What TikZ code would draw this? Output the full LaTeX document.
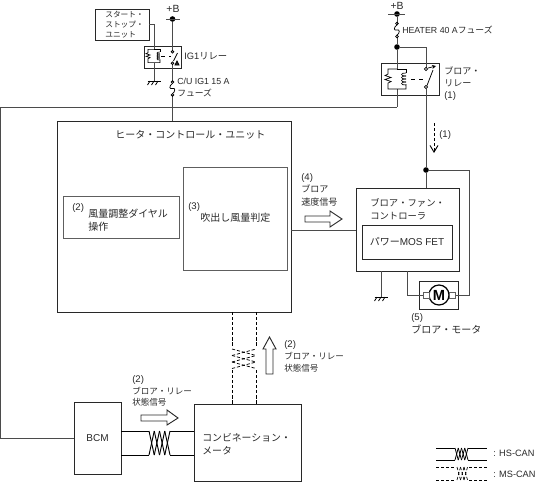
\documentclass[tikz,border=0pt]{standalone}
\usepackage{fontspec}
\usepackage{tikz}
\usetikzlibrary{arrows.meta}
\setmainfont{Liberation Sans}
\newfontfamily\jpfont{Noto Sans CJK JP}
\newcommand{\jt}[1]{{\jpfont #1}}
\newcommand{\nm}[1]{{\fontsize{7.2}{9}\selectfont #1}}
\AtBeginDocument{\lineskiplimit=-20pt\relax}
\definecolor{wiregray}{RGB}{75, 75, 75}
\definecolor{boxdark}{RGB}{40, 40, 40}
\tikzset{
    box/.style 2 args={draw=boxdark, line width=0.72pt, inner sep=0pt, minimum width=#1*0.75pt, minimum height=#2*0.75pt},
    thinbox/.style 2 args={draw=boxdark!75, line width=0.6pt, inner sep=0pt, minimum width=#1*0.75pt, minimum height=#2*0.75pt},
    wire/.style={draw=wiregray, line width=0.7pt},
    sig/.style={draw=black, line width=0.6pt, dash pattern=on 2.4pt off 1.4pt},
    blockarrow/.style={draw=boxdark, line width=0.7pt, fill=white},
    jdot/.style={circle, fill=black, inner sep=0pt, minimum size=4.2pt},
    lab/.style={inner sep=0pt, anchor=west, align=left, text=boxdark, font=\fontsize{6.6}{9}\selectfont},
    bigtxt/.style={inner sep=0pt, anchor=west, align=left, text=boxdark, font=\fontsize{7.5}{10}\selectfont},
    coilset/.pic={
        \draw[line width=0.5pt] (0,-10) -- (-9,-10) -- (-9,-5) -- (-12,-3.5) -- (-6,-1.5) -- (-12,0.5) -- (-6,2.5) -- (-9,4) -- (-9,10) -- (9,10) -- (9,5);
        \draw[line width=0.5pt] (0,-10) -- (9,-10) -- (9,-6);
        \foreach \y in {-6,-3,0,3} {
            \draw[line width=0.5pt] (9,\y) .. controls (3,\y-0.5) and (3,\y+3.5) .. (9,\y+3);
        }
    },
    fusesym/.pic={
        \draw[line width=0.55pt] (0,-6.5) circle [radius=1.3];
        \draw[line width=0.55pt] (0,6.5) circle [radius=1.3];
        \draw[line width=0.55pt] (0,-5.2) .. controls (-4,-2) and (-3,1) .. (0,0) .. controls (3,-1) and (3,3) .. (0,5.2);
    },
    groundsym/.pic={
        \draw[line width=0.7pt] (-6.5,0) -- (6.5,0);
        \foreach \x in {-4,0,4} {
            \draw[line width=0.6pt] (\x,0) -- (\x-2.5,4);
        }
    }
}
\begin{document}
\begin{tikzpicture}[x=0.75pt, y=-0.75pt]
    \useasboundingbox (0,0) rectangle (541,482);

    % Main boxes
    \node (hcu) at (174, 216.5) [box={234}{191}] {};
    \node (dial) at (121, 217) [thinbox={116}{42}] {};
    \node (judge) at (235, 218.5) [thinbox={104}{103}] {};
    \node (bfc) at (407.5, 229.5) [box={103}{83}] {};
    \node (fet) at (407, 242) [box={90}{34}] {};
    \node (bcm) at (97.5, 438) [box={47}{72}] {};
    \node (meter) at (247.5, 442.5) [box={107}{77}] {};
    \node (motorbox) at (438.5, 295) [box={39}{28}] {};
    \node (ssu) at (122, 24.5) [box={54}{31}] {};
    \node (ig1rel) at (162.5, 57) [box={37}{22}] {};
    \node (blwrel) at (410, 79) [box={58}{32}] {};

    % Junctions and free ends
    \node (bat1) at (172.5, 19) [jdot] {};
    \node (bat2) at (397, 14) [jdot] {};
    \node (fsjoin) at (397, 47) [jdot] {};
    \node (fanjoin) at (426, 170) [jdot] {};
    \coordinate (bat1l) at (166, 19);
    \coordinate (bat1r) at (180, 19);
    \coordinate (bat2l) at (388, 14);
    \coordinate (bat2r) at (405, 14);
    \coordinate (tap) at (397, 107);
    \coordinate (lefttop) at (0.5, 107);
    \coordinate (leftbot) at (0.5, 438);
    \coordinate (fuse1a) at (172.5, 82);
    \coordinate (fuse1b) at (172.5, 95);
    \coordinate (fuse2a) at (397, 23.5);
    \coordinate (fuse2b) at (397, 36.5);
    \coordinate (ssturn) at (154, 24);
    \coordinate (gnd1) at (154, 81);
    \coordinate (gnd2) at (381, 297);
    \coordinate (coil1t) at (154, 49);
    \coordinate (coil1b) at (154, 63);
    \coordinate (coil2t) at (397, 69);
    \coordinate (coil2b) at (397, 89);
    \coordinate (fanturn1) at (469, 170);
    \coordinate (fanturn2) at (469, 295);
    \coordinate (motorturn) at (407, 295);

    % Bar of each +B
    \draw[wire] (bat1l) -- (bat1r);
    \draw[wire] (bat2l) -- (bat2r);

    % Wires of the relays
    \draw[wire] (ssu.east |- ssturn) -- (ssturn) -- (coil1t);
    \draw[wire] (coil1b) -- (gnd1);
    \draw[wire] (bat2) -- (fuse2a);
    \draw[wire] (fuse2b) -- (fsjoin);
    \draw[wire] (fsjoin) -- (coil2t);
    \draw[wire] (coil2b) -- (tap);
    \draw[wire] (lefttop) -- (tap);
    \draw[wire] (bcm.west) -- (leftbot) -- (lefttop);
    \draw[wire] (bat1) -- (172.5, 50.5) coordinate (c1a);
    \draw[wire] (172.5, 64.5) coordinate (c1b) -- (fuse1a);
    \draw[wire] (fuse1b) -- (fuse1b |- hcu.north);
    \draw[wire] (fsjoin) -- (426, 47) -- (426, 67.5) coordinate (c2a);
    \draw[wire] (426, 88.5) coordinate (c2b) -- (fanjoin);
    \draw[wire] (fanjoin) -- (fanjoin |- bfc.north);
    \draw[wire] (fanjoin) -- (fanturn1) -- (fanturn2) -- (455, 295) coordinate (motorr);
    \draw[wire] (motorturn |- bfc.south) -- (motorturn) -- (423, 295) coordinate (motorl);
    \draw[wire] (gnd2 |- bfc.south) -- (gnd2);
    \draw[wire] (hcu.east |- 0,230) -- (bfc.west |- 0,230);

    % Relay and fuse symbols
    \pic[scale=0.66] at (154, 56) {coilset};
    \pic at (397, 79) {coilset};
    \pic at (172.5, 88.5) {fusesym};
    \pic at (397, 30) {fusesym};
    \pic at (gnd1) {groundsym};
    \pic at (gnd2) {groundsym};
    \draw[line width=0.55pt] (c1a) ++(0,1.3) circle [radius=1.3];
    \draw[line width=0.55pt] (c1b) ++(0,-1.3) circle [radius=1.3];
    \draw[line width=0.55pt] (173.5, 61) -- (177.5, 53);
    \draw[line width=0.55pt, fill=boxdark] (175, 65) -- (179, 65) -- (177, 61) -- cycle;
    \draw[line width=0.55pt, dashed] (161, 56) -- (171, 56);
    \draw[line width=0.55pt] (c2a) ++(0,1.5) circle [radius=1.7];
    \draw[line width=0.55pt] (c2b) ++(0,-1.5) circle [radius=1.7];
    \draw[line width=0.55pt] (427, 85.5) -- (433, 70);
    \draw[line width=0.55pt, -{Stealth[length=3pt, width=3pt]}] (428, 68) -- (436, 66);
    \draw[line width=0.55pt, dashed] (411, 79) -- (424, 79);

    % Motor
    \node (motor) at (439, 295) [circle, draw=black, line width=0.9pt, inner sep=0pt, minimum size=15pt, font=\bfseries\fontsize{11}{11}\selectfont] {M};
    \node (mtermr) at (452, 295) [thinbox={6}{6}, fill=white] {};
    \node (mterml) at (426, 295) [thinbox={6}{6}, fill=white] {};

    % HS-CAN between BCM and meter
    \draw[wire, draw=black] (bcm.east |- 0,431) -- (149, 431);
    \draw[wire, draw=black] (bcm.east |- 0,455) -- (149, 455);
    \draw[wire, draw=black] (170, 431) -- (meter.west |- 0,431);
    \draw[wire, draw=black] (170, 455) -- (meter.west |- 0,455);
    \foreach \x in {149,154.25,159.5,164.75} {
        \draw[wire, draw=black] (\x, 431) -- (\x+5.25, 455);
        \draw[wire, draw=black] (\x, 455) -- (\x+5.25, 431);
    }

    % MS-CAN between unit and meter
    \draw[sig] (232, 312) -- (232, 347);
    \draw[sig] (256, 312) -- (256, 347);
    \draw[sig] (232, 370) -- (232, 404);
    \draw[sig] (256, 370) -- (256, 404);
    \foreach \y in {349,355.5,362} {
        \draw[sig, line width=0.55pt] (232, \y) -- (256, \y+6.5);
        \draw[sig, line width=0.55pt] (232, \y+6.5) -- (256, \y);
    }

    % Legend
    \draw[wire, draw=black] (436, 448) -- (455, 448);
    \draw[wire, draw=black] (436, 460) -- (455, 460);
    \draw[wire, draw=black] (468, 448) -- (487, 448);
    \draw[wire, draw=black] (468, 460) -- (487, 460);
    \foreach \x in {455,458.25,461.5,464.75} {
        \draw[wire, draw=black, line width=0.6pt] (\x, 448) -- (\x+3.25, 460);
        \draw[wire, draw=black, line width=0.6pt] (\x, 460) -- (\x+3.25, 448);
    }
    \draw[sig] (436, 467) -- (456, 467);
    \draw[sig] (436, 480) -- (456, 480);
    \draw[sig] (469, 467) -- (487, 467);
    \draw[sig] (469, 480) -- (487, 480);
    \foreach \x in {457,460.5,464} {
        \draw[sig, line width=0.5pt] (\x, 467) -- (\x+3.5, 480);
        \draw[sig, line width=0.5pt] (\x, 480) -- (\x+3.5, 467);
    }

    % Signal arrows
    \draw[sig, -{Straight Barb[length=5pt, width=6pt]}, line width=0.7pt] (434, 123) -- (434, 153);
    \draw[blockarrow] (305, 216) -- (330, 216) -- (330, 211) -- (342, 219) -- (330, 227) -- (330, 222) -- (305, 222) -- cycle;
    \draw[blockarrow] (266, 374) -- (266, 349) -- (263, 349) -- (269.5, 337) -- (276, 349) -- (273, 349) -- (273, 374) -- cycle;
    \draw[blockarrow] (141, 415) -- (167, 415) -- (167, 410) -- (178, 418) -- (167, 425) -- (167, 421) -- (141, 421) -- cycle;

    % Labels
    \node (lbat1) at (173, 9) [lab, anchor=center, font=\fontsize{7.8}{9}\selectfont] {+B};
    \node (lbat2) at (397, 6) [lab, anchor=center, font=\fontsize{7.8}{9}\selectfont] {+B};
    \node (lssu) at (105, 25) [lab, font=\fontsize{5.8}{7.4}\selectfont] {\jt{スタート・}\\\jt{ストップ・}\\\jt{ユニット}};
    \node (lig1) at (184, 56) [lab, font=\fontsize{7}{9}\selectfont] {IG1\jt{リレー}};
    \node (lfuse1) at (177, 88) [lab] {C/U IG1 15 A\\\jt{フューズ}};
    \node (lfuse2) at (402, 30) [lab] {HEATER 40 A\jt{フューズ}};
    \node (lrel) at (444, 84) [lab, font=\fontsize{6.8}{9}\selectfont] {\jt{ブロア・}\\\jt{リレー}\\\nm{(1)}};
    \node (lone) at (439, 135) [lab] {\nm{(1)}};
    \node (lhcu) at (115, 135) [bigtxt] {\jt{ヒータ・コントロール・ユニット}};
    \node (ldialn) at (72, 208) [lab] {\nm{(2)}};
    \node (ldial) at (88, 220.5) [bigtxt] {\jt{風量調整ダイヤル}\\\jt{操作}};
    \node (ljudgen) at (188, 207) [lab] {\nm{(3)}};
    \node (ljudge) at (200, 218) [bigtxt] {\jt{吹出し風量判定}};
    \node (lspeed) at (301, 189.5) [lab, font=\fontsize{6.8}{9.3}\selectfont] {\nm{(4)}\\\jt{ブロア}\\\jt{速度信号}};
    \node (lbfc) at (370, 209.5) [lab, font=\fontsize{7}{9.8}\selectfont] {\jt{ブロア・ファン・}\\\jt{コントローラ}};
    \node (lfet) at (fet) [bigtxt, anchor=center] {\jt{パワー}MOS FET};
    \node (lmotor) at (411, 323.5) [bigtxt] {\nm{(5)}\\\jt{ブロア・モータ}};
    \node (lrstat) at (284, 356) [lab, font=\fontsize{6.4}{9}\selectfont] {\nm{(2)}\\\jt{ブロア・リレー}\\\jt{状態信号}};
    \node (llstat) at (132, 391) [lab, font=\fontsize{6.4}{8.4}\selectfont] {\nm{(2)}\\\jt{ブロア・リレー}\\\jt{状態信号}};
    \node (lbcm) at (bcm) [bigtxt, anchor=center] {BCM};
    \node (lmeter) at (202, 444) [bigtxt, font=\fontsize{7.4}{10}\selectfont] {\jt{コンビネーション・}\\\jt{メータ}};
    \node (lhs) at (493, 453) [lab, font=\fontsize{6.9}{9}\selectfont] {: HS-CAN};
    \node (lms) at (493, 474) [lab, font=\fontsize{6.9}{9}\selectfont] {: MS-CAN};
\end{tikzpicture}
\end{document}
